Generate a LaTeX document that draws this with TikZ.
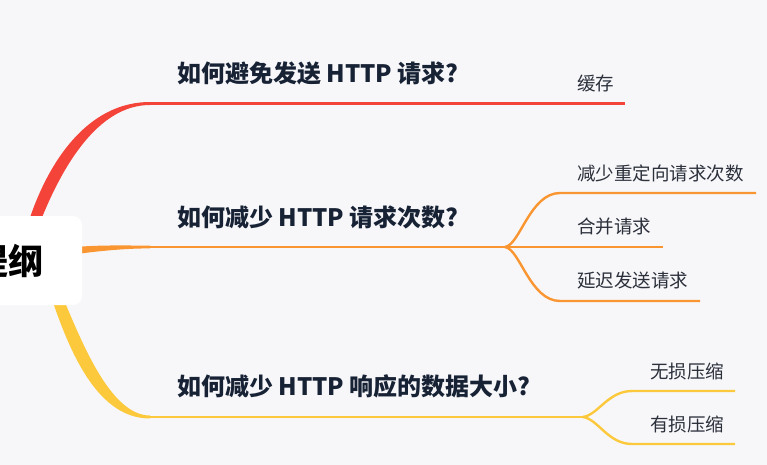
\documentclass[tikz,border=0pt]{standalone}
\usepackage{fontspec}
\setmainfont{Noto Sans CJK SC}
\usetikzlibrary{calc}
\definecolor{bgc}{HTML}{F7F7FA}
\definecolor{cred}{HTML}{F4443A}
\definecolor{corange}{HTML}{FA9632}
\definecolor{cyellow}{HTML}{FDC93C}
\definecolor{ctitle}{HTML}{172235}
\definecolor{csub}{HTML}{2B303B}
\pgfdeclarelayer{back}
\pgfsetlayers{back,main}
\tikzset{
  rootbox/.style={rectangle, rounded corners=9pt, fill=white, minimum width=146pt, minimum height=89pt,
    inner sep=0pt, font=\bfseries\fontsize{35pt}{40pt}\selectfont, text=black},
  topic/.style={anchor=west, inner sep=0pt, font=\bfseries\fontsize{24pt}{28pt}\selectfont, text=ctitle},
  sub/.style={anchor=west, inner sep=0pt, font=\fontsize{18.5pt}{22pt}\selectfont, text=csub},
  mainline/.style={line width=2.6pt},
  subline/.style={line width=2.4pt},
}
\begin{document}
\begin{tikzpicture}[x=1pt,y=-1pt]
\useasboundingbox (0,0) rectangle (767,465);
% root
\node[rootbox] (root) at (9,260.5) {提纲};
% topic labels
\node[topic] (t1) at (177,73) {如何避免发送 HTTP 请求?};
\node[topic] (t2) at (177,217) {如何减少 HTTP 请求次数?};
\node[topic] (t3) at (177,386) {如何减少 HTTP 响应的数据大小?};
% sub labels
\node[sub] (s11) at (577,83) {缓存};
\node[sub] (s21) at (577,173) {减少重定向请求次数};
\node[sub] (s22) at (577,227) {合并请求};
\node[sub] (s23) at (577,280) {延迟发送请求};
\node[sub] (s31) at (650,371) {无损压缩};
\node[sub] (s32) at (650,424) {有损压缩};
% coordinates
\coordinate (re) at (150,103.5);
\coordinate (rt) at (625,103.5);
\coordinate (oe) at (150,247);
\coordinate (os) at (505,247);
\coordinate (o1a) at (560,193);
\coordinate (o1) at (756,193);
\coordinate (o2) at (663,247);
\coordinate (o3a) at (560,301);
\coordinate (o3) at (700,301);
\coordinate (ye) at (150,417);
\coordinate (ys) at (583,417);
\coordinate (y1a) at (632,391);
\coordinate (y1) at (735,391);
\coordinate (y2a) at (632,444);
\coordinate (y2) at (735,444);
\begin{pgfonlayer}{back}
\fill[bgc] (0,0) rectangle (767,465);
% red branch
\fill[cred] (29.8,218.1) .. controls (51.7,153.85) and (92,102) .. ($(re)+(0,-1.5)$)
  -- ($(re)+(0,1.5)$) .. controls (98,105) and (62.3,166.15) .. (40.2,221.9) -- cycle;
\draw[cred, mainline] ($(re)+(-1,0)$) -- (rt);
% orange branch
\fill[corange] (70,247.5) .. controls (100,244.5) and (130,245.7) .. ($(oe)+(0,-1.4)$)
  -- ($(oe)+(0,1.4)$) .. controls (130,248.3) and (100,250.5) .. (70,255) -- cycle;
\draw[corange, mainline] ($(oe)+(-1,0)$) -- (os);
\draw[corange, subline] (os) .. controls (520,245) and (530,193) .. (o1a) -- (o1);
\draw[corange, subline] (os) -- (o2);
\draw[corange, subline] (os) .. controls (520,249) and (530,301) .. (o3a) -- (o3);
% yellow branch
\fill[cyellow] (52.9,302) .. controls (71.4,356) and (99,418.5) .. ($(ye)+(0,1.5)$)
  -- ($(ye)+(0,-1.5)$) .. controls (111,415.5) and (82.6,344) .. (63.1,298) -- cycle;
\draw[cyellow, mainline] ($(ye)+(-1,0)$) -- (ys);
\draw[cyellow, subline] (ys) .. controls (598,415) and (608,391) .. (y1a) -- (y1);
\draw[cyellow, subline] (ys) .. controls (598,419) and (608,444) .. (y2a) -- (y2);
\end{pgfonlayer}
\end{tikzpicture}
\end{document}
